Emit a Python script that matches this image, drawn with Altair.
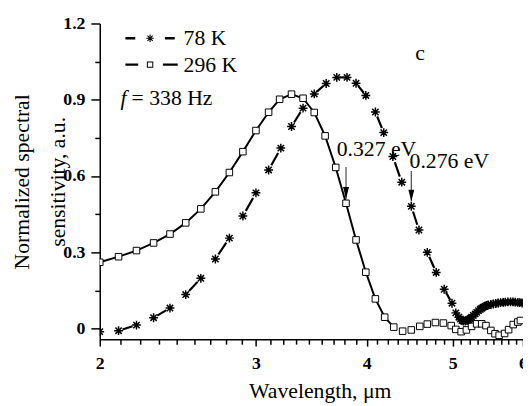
import math
import altair as alt
import pandas as pd

# ---------------- data ----------------
wl_78 = [2.0, 2.10, 2.20, 2.30, 2.40, 2.50, 2.60, 2.70, 2.80, 2.90,
         3.00, 3.10, 3.20, 3.29, 3.39, 3.49, 3.60, 3.70, 3.80, 3.89,
         3.99, 4.09, 4.18, 4.28, 4.38, 4.49, 4.58, 4.68, 4.79, 4.89,
         4.99, 5.04, 5.08, 5.10, 5.12, 5.14, 5.165, 5.19, 5.21, 5.23,
         5.25, 5.275, 5.30, 5.32, 5.345, 5.37, 5.39, 5.41, 5.435, 5.46,
         5.48, 5.52, 5.555, 5.59, 5.625, 5.66, 5.70, 5.73, 5.77, 5.81,
         5.845, 5.88, 5.92, 5.95, 5.985]
sig_78 = [-0.012, -0.008, 0.014, 0.043, 0.081, 0.134, 0.198, 0.274, 0.356, 0.443,
          0.534, 0.624, 0.710, 0.795, 0.867, 0.923, 0.964, 0.988, 0.988, 0.965,
          0.917, 0.852, 0.771, 0.677, 0.576, 0.481, 0.388, 0.300, 0.221, 0.155,
          0.100, 0.062, 0.045, 0.038, 0.032, 0.030, 0.030, 0.032, 0.036, 0.040,
          0.045, 0.052, 0.058, 0.064, 0.071, 0.076, 0.080, 0.084, 0.088, 0.091,
          0.093, 0.095, 0.097, 0.099, 0.101, 0.102, 0.103, 0.104, 0.105, 0.105,
          0.105, 0.104, 0.103, 0.102, 0.101]

wl_296 = [2.0, 2.10, 2.20, 2.30, 2.40, 2.50, 2.60, 2.70, 2.80, 2.90,
          3.00, 3.10, 3.19, 3.29, 3.39, 3.49, 3.59, 3.69, 3.79, 3.89,
          3.99, 4.09, 4.19, 4.29, 4.39, 4.49, 4.59, 4.68, 4.78, 4.88,
          4.98, 5.04, 5.11, 5.18, 5.25, 5.32, 5.39, 5.45, 5.52, 5.58,
          5.64, 5.72, 5.78, 5.85, 5.92, 5.96]
sig_296 = [0.261, 0.283, 0.307, 0.337, 0.372, 0.416, 0.471, 0.538, 0.614, 0.696,
           0.779, 0.851, 0.902, 0.922, 0.906, 0.850, 0.758, 0.634, 0.493, 0.349,
           0.222, 0.117, 0.045, 0.006, -0.010, -0.005, 0.009, 0.018, 0.024, 0.022,
           0.012, -0.003, -0.012, -0.005, 0.009, 0.019, 0.019, 0.012, -0.007, -0.020,
           -0.026, -0.019, -0.004, 0.016, 0.026, 0.032]

series_names = ["78 K", "296 K"]
x_major = [2, 3, 4, 5, 6]
y_major = [0, 0.3, 0.6, 0.9, 1.2]

ann_text = ["0.327 eV", "0.276 eV"]
ann_x = [3.70, 4.47]
ann_y = [0.678, 0.633]
arrow_x = [3.79, 4.49]
arrow_top = [0.636, 0.620]
arrow_tip = [0.510, 0.500]
panel_text = ["c"]
panel_x = [4.594]
panel_y = [1.057]
freq_parts = ["f", "= 338 Hz"]
freq_x = [2.110, 2.172]
freq_y = [0.880, 0.880]

FONT = "Liberation Serif, Times New Roman, Times, serif"
TXT = 22

# ---------------- tables ----------------
df78 = pd.DataFrame({"x": wl_78, "y": sig_78})
df296 = pd.DataFrame({"x": wl_296, "y": sig_296})

# dashed connection of the 78 K curve: every other interval, with gaps at markers
segs = []
for i in range(1, len(wl_78) - 1, 2):
    a, b = math.log(wl_78[i]), math.log(wl_78[i + 1])
    t0, t1 = 0.22, 0.78
    segs.append({
        "x": math.exp(a + t0 * (b - a)), "x2": math.exp(a + t1 * (b - a)),
        "y": sig_78[i] + t0 * (sig_78[i + 1] - sig_78[i]),
        "y2": sig_78[i] + t1 * (sig_78[i + 1] - sig_78[i]),
    })
dfseg = pd.DataFrame(segs)

df_ann = pd.DataFrame({"x": ann_x, "y": ann_y, "t": ann_text})
df_arrow = pd.DataFrame({"x": arrow_x, "y": arrow_top, "y2": arrow_tip})
df_tip = pd.DataFrame({"x": arrow_x, "y": arrow_tip})
df_panel = pd.DataFrame({"x": panel_x, "y": panel_y, "t": panel_text})
df_f = pd.DataFrame({"x": freq_x[:1], "y": freq_y[:1], "t": freq_parts[:1]})
df_hz = pd.DataFrame({"x": freq_x[1:], "y": freq_y[1:], "t": freq_parts[1:]})
df_leg = pd.DataFrame({"s": series_names})

# ---------------- axes ----------------
x_ticks = [n + k / 9 for n in x_major[:-1] for k in range(9)] + [x_major[-1]]
y_ticks = [0, 0.15, 0.3, 0.45, 0.6, 0.75, 0.9, 1.05, 1.2]

x_scale = alt.Scale(type="log", domain=[2, 6], nice=False)
y_scale = alt.Scale(domain=[-0.0415, 1.2], nice=False, zero=False)

x_axis = alt.Axis(
    values=x_ticks, title="Wavelength, μm",
    labelExpr="abs(datum.value - round(datum.value)) < 0.01 ? format(datum.value, 'd') : ''",
    tickSize={"condition": {"test": "abs(datum.value - round(datum.value)) < 0.01", "value": 7}, "value": 5},
    labelFlush=False, labelOverlap=False, labelPadding=9,
    titleX=223, titleY=59, titleBaseline="alphabetic", titleAlign="center",
)
y_axis = alt.Axis(
    values=y_ticks, title=["Normalized spectral", "sensitivity, a.u."],
    labelExpr="round(datum.value * 100) % 30 === 0 ? (datum.value === 0 ? '0' : format(datum.value, '.1f')) : ''",
    tickSize={"condition": {"test": "round(datum.value * 100) % 30 === 0", "value": 9}, "value": 5},
    labelFlush=False, labelOverlap=False, labelPadding=6,
    titleX=-72, titleY=160, titleAngle=270, titleAlign="center",
    titleBaseline="alphabetic", titleLineHeight=36,
)

X = alt.X("x:Q", scale=x_scale, axis=x_axis)
Y = alt.Y("y:Q", scale=y_scale, axis=y_axis)

# ---------------- legend symbols (unit = sqrt(size)/2 = 5 px) ----------------
def rect(x0, x1, y0, y1, rev=False):
    pts = [(x0, y0), (x1, y0), (x1, y1), (x0, y1)]
    if rev:
        pts = pts[::-1]
    return "M" + "L".join(f"{px:.3f},{py:.3f}" for px, py in pts) + "Z"

def bar(cx, cy, half, th, ang):
    c, s = math.cos(ang), math.sin(ang)
    pts = [(-half, -th), (half, -th), (half, th), (-half, th)]
    return "M" + "L".join(f"{cx + px * c - py * s:.3f},{cy + px * s + py * c:.3f}" for px, py in pts) + "Z"

th = 0.25
mk = -4.4
path78 = (rect(-9.4, -7.4, -th, th) + rect(-1.4, 0.6, -th, th)
          + "".join(bar(mk, 0, 0.75, 0.11, a) for a in (0, math.pi / 4, math.pi / 2, 3 * math.pi / 4)))
path296 = (rect(-9.4, -6.8, -th, th) + rect(-1.8, 1.2, -th, th)
           + rect(mk - 0.65, mk + 0.65, -0.65, 0.65) + rect(mk - 0.45, mk + 0.45, -0.45, 0.45, rev=True))

asterisk = "M-1,0L1,0M0,-1L0,1M-0.72,-0.72L0.72,0.72M-0.72,0.72L0.72,-0.72"
arrow_head = "M-0.25,-1L0.25,-1L0,0Z"

# ---------------- layers ----------------
dashes = alt.Chart(dfseg).mark_rule(color="black", strokeWidth=2.2).encode(
    x=X, y=Y, x2="x2:Q", y2="y2:Q")

line296 = alt.Chart(df296).transform_filter("datum.x <= 4.3").mark_line(
    color="black", strokeWidth=2).encode(x=X, y=Y)

squares = alt.Chart(df296).mark_point(
    shape="square", size=44, filled=True, fill="white", stroke="black",
    strokeWidth=1, opacity=1, clip=True).encode(x=X, y=Y)

stars = alt.Chart(df78).mark_point(
    shape=asterisk, size=80, filled=False, stroke="black", strokeWidth=1.5,
    opacity=1, clip=True).encode(x=X, y=Y)

shafts = alt.Chart(df_arrow).mark_rule(color="#555555", strokeWidth=1.3).encode(
    x=X, y=Y, y2="y2:Q")
heads = alt.Chart(df_tip).mark_point(
    shape=arrow_head, size=576, filled=True, color="black", strokeWidth=0, opacity=1).encode(x=X, y=Y)

ann = alt.Chart(df_ann).mark_text(
    font=FONT, fontSize=TXT, align="left", baseline="alphabetic", color="black").encode(
    x=X, y=Y, text="t:N")
panel = alt.Chart(df_panel).mark_text(
    font=FONT, fontSize=TXT, align="center", baseline="alphabetic", color="black").encode(
    x=X, y=Y, text="t:N")
f_txt = alt.Chart(df_f).mark_text(
    font=FONT, fontSize=TXT, fontStyle="italic", align="left", baseline="alphabetic",
    color="black").encode(x=X, y=Y, text="t:N")
hz_txt = alt.Chart(df_hz).mark_text(
    font=FONT, fontSize=TXT, align="left", baseline="alphabetic", color="black").encode(
    x=X, y=Y, text="t:N")

legend_layer = alt.Chart(df_leg).transform_filter("false").mark_point(
    filled=True, color="black", size=100, strokeWidth=0, opacity=1).encode(
    x=X, y=Y,
    shape=alt.Shape("s:N", scale=alt.Scale(domain=series_names, range=[path78, path296]),
                    legend=alt.Legend(
                        title=None, orient="none", legendX=62, legendY=4,
                        labelFont=FONT, labelFontSize=TXT, labelColor="black",
                        labelOffset=1, rowPadding=4.7, symbolSize=100,
                        symbolFillColor="black", symbolStrokeWidth=0,
                        symbolOpacity=1, padding=0)))

chart = alt.layer(
    dashes, line296, squares, stars, shafts, heads, ann, panel, f_txt, hz_txt, legend_layer
).properties(
    width=429, height=320,
    autosize=alt.AutoSizeParams(type="none"),
    padding={"left": 93, "top": 13, "right": 0, "bottom": 65},
).configure_view(stroke=None).configure_axis(
    grid=False, domainColor="black", domainWidth=1.5, tickColor="black", tickWidth=1.5,
    labelFont=FONT, labelFontSize=18, labelFontWeight="bold", labelColor="black",
    titleFont=FONT, titleFontSize=TXT, titleFontWeight="normal", titleColor="black",
)

chart.save("out.html", embed_options={"renderer": "svg", "actions": False})
